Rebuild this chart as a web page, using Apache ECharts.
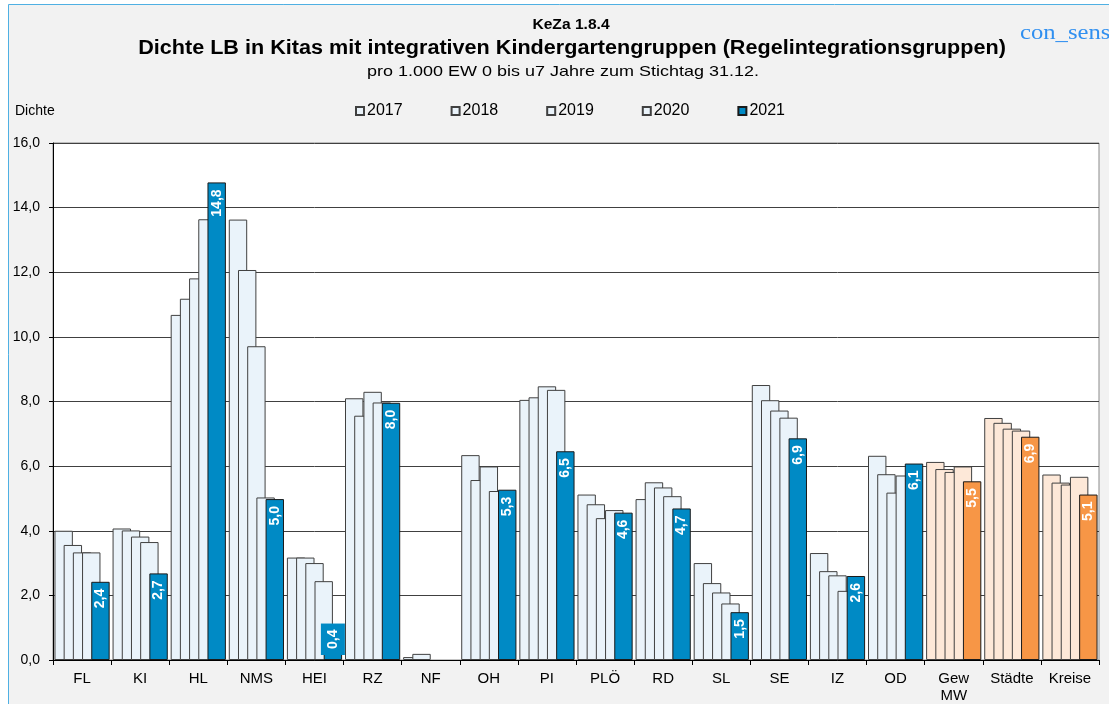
<!DOCTYPE html>
<html>
<head>
<meta charset="utf-8">
<script src="https://cdn.jsdelivr.net/npm/echarts@6/dist/echarts.min.js"></script>
<style>
html,body{margin:0;padding:0;background:#fff;}
#c{width:1109px;height:704px;}
</style>
</head>
<body>
<div id="c"></div>
<script>
const categories = ['FL','KI','HL','NMS','HEI','RZ','NF','OH','PI','PLÖ','RD','SL','SE','IZ','OD','Gew\nMW','Städte','Kreise'];
const years = ['2017','2018','2019','2020','2021'];
const v2017 = [4.0, 4.07, 10.68, 13.63, 3.17, 8.10, 0.09, 6.34, 8.05, 5.12, 4.98, 3.0, 8.51, 3.31, 6.32, 6.13, 7.49, 5.74];
const v2018 = [3.56, 4.01, 11.18, 12.07, 3.17, 7.56, 0.19, 5.57, 8.13, 4.82, 5.50, 2.38, 8.04, 2.75, 5.75, 5.91, 7.34, 5.49];
const v2019 = [3.33, 3.82, 11.81, 9.71, 3.0, 8.30, null, 5.99, 8.47, 4.39, 5.34, 2.09, 7.72, 2.62, 5.18, 5.82, 7.16, 5.43];
const v2020 = [3.33, 3.65, 13.64, 5.03, 2.44, 7.97, null, 5.23, 8.36, 4.64, 5.07, 1.75, 7.50, 2.14, 5.71, 5.99, 7.10, 5.67];
const v2021 = [2.42, 2.68, 14.78, 4.98, 0.4, 7.96, null, 5.27, 6.46, 4.56, 4.69, 1.48, 6.86, 2.60, 6.08, 5.53, 6.91, 5.12];
const yTicks = [0, 2, 4, 6, 8, 10, 12, 14, 16];
const aggregateStart = 15; // Gew MW, Städte, Kreise

const FONT = "'Liberation Sans', Arial, sans-serif";
const lightBlue = '#EAF3FA', darkBlue = '#008AC5';
const lightOrange = '#FDE8D8', darkOrange = '#F79646';
const fmt = v => v.toFixed(1).replace('.', ',');

function lightData(arr) {
  return arr.map((v, i) => i >= aggregateStart
    ? { value: v, itemStyle: { color: lightOrange } }
    : v);
}
function mainData(arr) {
  return arr.map((v, i) => {
    if (v === null) return null;
    const col = i >= aggregateStart ? darkOrange : darkBlue;
    const item = { value: v, itemStyle: { color: col } };
    if (v < 1) {
      item.label = {
        position: 'insideBottom', align: 'left', distance: 5,
        padding: [4, 6], backgroundColor: col
      };
    }
    return item;
  });
}

const lightSeries = [v2017, v2018, v2019, v2020].map((arr, k) => ({
  name: years[k],
  type: 'bar',
  barWidth: 18.4,
  barGap: '-50%',
  data: lightData(arr),
  itemStyle: { color: lightBlue, borderColor: '#404040', borderWidth: 1 },
  emphasis: { disabled: true }
}));

const option = {
  backgroundColor: '#ffffff',
  animation: false,
  textStyle: { fontFamily: FONT },
  graphic: [
    { type: 'rect', z: -10, shape: { x: 8.5, y: 4.5, width: 1200, height: 800 },
      style: { fill: '#F2F2F2', stroke: '#4FB0E3', lineWidth: 1 } },
    { type: 'text', x: 571, y: 25, scaleX: 1.04, style: { text: 'KeZa 1.8.4', font: "bold 15px " + FONT, fill: '#000', textAlign: 'center', textVerticalAlign: 'middle' } },
    { type: 'text', x: 572, y: 48, scaleX: 1.08, style: { text: 'Dichte LB in Kitas mit integrativen Kindergartengruppen (Regelintegrationsgruppen)', font: "bold 20px " + FONT, fill: '#000', textAlign: 'center', textVerticalAlign: 'middle' } },
    { type: 'text', x: 563, y: 72, scaleX: 1.24, style: { text: 'pro 1.000 EW 0 bis u7 Jahre zum Stichtag 31.12.', font: "14.5px " + FONT, fill: '#000', textAlign: 'center', textVerticalAlign: 'middle' } },
    { type: 'text', x: 15, y: 111, style: { text: 'Dichte', font: "14px " + FONT, fill: '#000', textAlign: 'left', textVerticalAlign: 'middle' } },
    { type: 'text', x: 1020, y: 33, scaleX: 1.12, style: { text: 'con_sens', font: "22px 'Liberation Serif', 'Times New Roman', serif", fill: '#2F8FF0', textAlign: 'left', textVerticalAlign: 'middle' } }
  ],
  legend: {
    left: 350, top: 98,
    itemWidth: 8, itemHeight: 8, itemGap: 48,
    icon: 'rect',
    textStyle: { fontSize: 16, color: '#000', fontFamily: FONT, padding: [0, 0, 0, -2] },
    data: years
  },
  grid: {
    left: 53, right: 10, top: 143, bottom: 44,
    show: true, backgroundColor: '#ffffff', borderColor: '#8a8a8a', borderWidth: 1
  },
  xAxis: {
    type: 'category',
    data: categories,
    axisLine: { lineStyle: { color: '#000', width: 1 } },
    axisTick: { show: true, length: 5, interval: 0, lineStyle: { color: '#000' } },
    axisLabel: { interval: 0, fontSize: 15, color: '#000', fontFamily: FONT, margin: 10, lineHeight: 17 }
  },
  yAxis: {
    type: 'value',
    min: yTicks[0], max: yTicks[yTicks.length - 1], interval: 2,
    axisLine: { show: true, lineStyle: { color: '#000', width: 1 } },
    axisTick: { show: true, length: 4, lineStyle: { color: '#000' } },
    axisLabel: { fontSize: 14, color: '#000', fontFamily: FONT, margin: 13, formatter: fmt },
    splitLine: { lineStyle: { color: '#404040', width: 1 } }
  },
  series: lightSeries.concat([{
    name: years[4],
    type: 'bar',
    barWidth: 18.4,
    barGap: '-50%',
    data: mainData(v2021),
    itemStyle: { color: darkBlue, borderColor: '#1a1a1a', borderWidth: 1 },
    emphasis: { disabled: true },
    label: {
      show: true,
      position: 'insideTop',
      rotate: 90,
      align: 'right',
      verticalAlign: 'middle',
      distance: 7,
      lineHeight: 16,
      color: '#fff',
      fontWeight: 'bold',
      fontSize: 14,
      fontFamily: FONT,
      formatter: p => fmt(p.value)
    }
  }])
};

const chart = echarts.init(document.getElementById('c'), null, { renderer: 'canvas' });
chart.setOption(option);
</script>
</body>
</html>
